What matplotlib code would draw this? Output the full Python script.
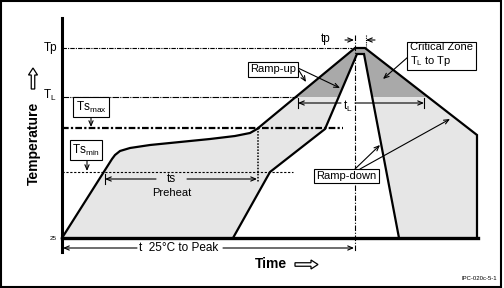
import matplotlib
matplotlib.use("Agg")
import matplotlib.pyplot as plt
from matplotlib.patches import Rectangle, FancyArrow

plt.rcParams['font.family'] = ['Liberation Sans', 'DejaVu Sans']
plt.rcParams['mathtext.default'] = 'regular'

# levels (chart units, y grows downward like the drawing)
T_P, T_L, TS_MAX, TS_MIN, T_25 = 48, 97, 128, 172, 238
level_lines = [T_P, T_L, TS_MAX, TS_MIN]
level_ends = [352, 297, 343, 293]

# outer (slowest) profile
outer_t = [62, 112, 115, 120, 130, 150, 180, 210, 235, 250, 257, 355, 365, 477, 477]
outer_T = [238, 159, 155, 151, 148, 145, 142, 139, 136, 133, 129, 48, 48, 135, 238]

# inner (fastest) profile
inner_t = [233, 270, 325, 357, 364, 399]
inner_T = [238, 172, 129, 54, 54, 238]

LIGHT = '#e6e6e6'
DARK = '#a9a9a9'

fig = plt.figure(figsize=(5.04, 2.88), dpi=100)
ax = fig.add_axes([0, 0, 1, 1])
ax.set_xlim(0, 504)
ax.set_ylim(288, 0)
ax.axis('off')

# fills
ax.fill(outer_t, outer_T, color=LIGHT, lw=0, zorder=1)
dark = ax.fill(outer_t, outer_T, color=DARK, lw=0, zorder=2)[0]
clip = Rectangle((0, 0), 504, T_L, transform=ax.transData)
dark.set_clip_path(clip)
ax.fill(inner_t, inner_T, color='white', lw=0, zorder=3)

# outlines
ax.plot(outer_t, outer_T, color='k', lw=1.6, zorder=5, solid_joinstyle='miter')
ax.plot(inner_t, inner_T, color='k', lw=1.6, zorder=5, solid_joinstyle='miter')

# axes
ax.plot([62, 62], [18, 252], color='k', lw=2.2, zorder=6)
ax.plot([62, 478], [T_25, T_25], color='k', lw=2.4, zorder=6)

# level lines
styles = [(0, (4, 1, 1, 1)), (0, (6, 1, 1, 1)), (0, (3, 1, 1, 1)), (0, (2, 1.5))]
widths = [0.8, 0.8, 1.6, 0.8]
for y, x1, ls, w in zip(level_lines, level_ends, styles, widths):
    ax.plot([62, x1], [y, y], color='k', lw=w, ls=ls, zorder=7)

# vertical guides
ax.plot([258, 258], [TS_MAX, 183], color='k', lw=1.1, ls=(0, (1, 1)), zorder=7)
ax.plot([355, 355], [35, 252], color='k', lw=0.8, ls=(0, (5, 1.5, 1, 1.5)), zorder=7)
ax.plot([366, 366], [35, 47], color='k', lw=0.8, ls=(0, (1, 1)), zorder=7)


def arrow(x0, y0, x1, y1):
    ax.annotate('', xy=(x1, y1), xytext=(x0, y0), zorder=8,
                arrowprops=dict(arrowstyle='->,head_length=0.35,head_width=0.15',
                                lw=0.8, color='k', shrinkA=0, shrinkB=0))


def tick(x, y0, y1):
    ax.plot([x, x], [y0, y1], color='k', lw=0.8, zorder=8)


box = dict(boxstyle='square,pad=0.2', fc='white', ec='black', lw=0.8)

# y labels
ax.text(57, T_P, 'Tp', ha='right', va='center', fontsize=8.5)
ax.text(57, T_L - 2, 'T$_L$', ha='right', va='center', fontsize=8.5)
ax.text(57, T_25, '25', ha='right', va='center', fontsize=4.5)

# Ts boxes
ax.text(91, 107, 'Ts$_{max}$', ha='center', va='center', fontsize=8.5, bbox=box, zorder=9)
arrow(91, 116, 91, 127)
ax.text(86, 150, 'Ts$_{min}$', ha='center', va='center', fontsize=8.5, bbox=box, zorder=9)
arrow(87, 157, 87, 171)

# tp marker
ax.text(326, 39, 'tp', ha='center', va='center', fontsize=8.5)
arrow(345, 40, 354, 40)
arrow(375, 40, 366, 40)

# Ramp-up
ax.text(273, 69.5, 'Ramp-up', ha='center', va='center', fontsize=8, bbox=box, zorder=9)
arrow(298, 69, 306, 82)
arrow(298, 68, 340, 88)

# Critical zone
ax.text(410, 55, 'Critical Zone\nT$_L$ to Tp', ha='left', va='center', fontsize=8,
        linespacing=1.1, bbox=dict(boxstyle='square,pad=0.25', fc='white', ec='black', lw=0.8),
        zorder=9)
arrow(408, 57, 383, 79)

# tL
ax.text(348, 106, 't$_L$', ha='center', va='center', fontsize=8.5)
arrow(341, 103, 298, 103)
arrow(355, 103, 424, 103)
tick(298, 98, 108)
tick(424, 98, 108)

# Ramp-down
ax.text(346.5, 176, 'Ramp-down', ha='center', va='center', fontsize=8, bbox=box, zorder=9)
arrow(355, 169, 380, 145)
arrow(360, 169, 450, 119)

# ts preheat
ax.text(171, 179, 'ts', ha='center', va='center', fontsize=8.5)
ax.text(172, 193, 'Preheat', ha='center', va='center', fontsize=8)
arrow(156, 179, 105, 179)
arrow(187, 179, 257, 179)
tick(105, 174, 184)

# t 25C to peak
ax.text(139, 248, 't  25°C to Peak', ha='left', va='center', fontsize=8.5)
arrow(137, 248, 63, 248)
arrow(223, 248, 354, 248)

# axis titles with outline arrows
ax.text(255, 264, 'Time', ha='left', va='center', fontsize=10, fontweight='bold')
ax.add_patch(FancyArrow(295, 264.5, 23, 0, width=3.5, head_width=9, head_length=7,
                        length_includes_head=True, fill=False, ec='k', lw=0.9, zorder=9))
ax.text(34, 143, 'Temperature', ha='center', va='center', fontsize=10,
        fontweight='bold', rotation=90)
ax.add_patch(FancyArrow(33, 89, 0, -21, width=3.5, head_width=9, head_length=7,
                        length_includes_head=True, fill=False, ec='k', lw=0.9, zorder=9))

ax.text(497, 278, 'IPC-020c-5-1', ha='right', va='center', fontsize=4.3)

# frame
ax.add_patch(Rectangle((1, 1), 500, 286, fill=False, ec='k', lw=1.5, zorder=10))

fig.savefig('out.png', dpi=100)
